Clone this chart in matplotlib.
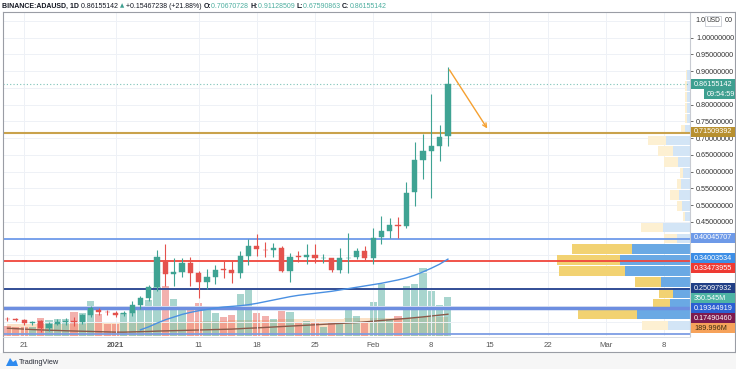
import matplotlib
matplotlib.use("Agg")
import matplotlib.pyplot as plt
import matplotlib.dates as mdates
import matplotlib.transforms as mtrans
from matplotlib.patches import Rectangle, Polygon
from matplotlib.lines import Line2D
import pandas as pd
import numpy as np

FONT = ['Liberation Sans', 'DejaVu Sans']
plt.rcParams['font.family'] = FONT

# ---------------- data ----------------
dates = pd.date_range("2020-12-19", "2021-02-10", freq="D")

opens = [0.160, 0.159, 0.157, 0.149, 0.153, 0.132, 0.146, 0.151, 0.153, 0.151, 0.171, 0.186, 0.182,
         0.179, 0.174, 0.178, 0.202, 0.222, 0.256, 0.331, 0.296, 0.301, 0.327,
         0.298, 0.271, 0.285, 0.309, 0.308, 0.298, 0.348, 0.378, 0.367, 0.365,
         0.373, 0.305, 0.347, 0.345, 0.351, 0.341, 0.341, 0.308, 0.341, 0.345, 0.362,
         0.343, 0.405, 0.423, 0.441, 0.438, 0.538, 0.635, 0.661, 0.677, 0.70670728]
highs = [0.165, 0.164, 0.161, 0.155, 0.158, 0.150, 0.160, 0.163, 0.165, 0.175, 0.200, 0.192, 0.186,
         0.184, 0.183, 0.215, 0.228, 0.262, 0.366, 0.385, 0.342, 0.343, 0.345,
         0.305, 0.310, 0.323, 0.333, 0.333, 0.363, 0.398, 0.413, 0.390, 0.386,
         0.378, 0.358, 0.363, 0.383, 0.385, 0.355, 0.343, 0.373, 0.418, 0.373, 0.378,
         0.433, 0.468, 0.463, 0.465, 0.568, 0.688, 0.713, 0.833, 0.738, 0.91128509]
lows = [0.154, 0.153, 0.142, 0.141, 0.121, 0.125, 0.143, 0.143, 0.138, 0.146, 0.166, 0.172, 0.172,
        0.166, 0.168, 0.170, 0.190, 0.215, 0.245, 0.258, 0.258, 0.285, 0.258,
        0.223, 0.250, 0.265, 0.283, 0.267, 0.283, 0.321, 0.348, 0.345, 0.345,
        0.300, 0.271, 0.330, 0.325, 0.328, 0.328, 0.300, 0.298, 0.298, 0.340, 0.335,
        0.325, 0.383, 0.403, 0.401, 0.431, 0.498, 0.578, 0.523, 0.633, 0.67590863]
closes = [0.159, 0.158, 0.149, 0.152, 0.132, 0.146, 0.152, 0.154, 0.151, 0.171, 0.192, 0.181, 0.180,
          0.173, 0.178, 0.202, 0.222, 0.256, 0.346, 0.296, 0.301, 0.327, 0.298,
          0.271, 0.285, 0.308, 0.307, 0.298, 0.348, 0.378, 0.370, 0.365, 0.373,
          0.305, 0.345, 0.345, 0.351, 0.341, 0.342, 0.308, 0.341, 0.343, 0.362, 0.343,
          0.403, 0.423, 0.440, 0.439, 0.535, 0.635, 0.662, 0.677, 0.705, 0.86155142]
volumes_m = [90, 84, 84, 84, 159, 144, 150, 150, 213, 204, 315, 195, 108,
             105, 204, 240, 255, 324, 438, 450, 333, 234, 234,
             294, 234, 204, 168, 189, 375, 414, 204, 180, 150,
             228, 219, 114, 138, 114, 84, 129, 114, 249, 180, 114,
             309, 465, 150, 180, 450, 468, 609, 405, 279, 350.545]
vol_band_m = [108, 108, 108, 108, 110, 110, 110, 112, 112, 112, 114, 114, 114,
              116, 116, 118, 120, 122, 124, 126, 128, 130, 130,
              132, 134, 136, 138, 140, 142, 144, 146, 146, 148,
              150, 150, 152, 152, 154, 154, 156, 156, 158, 158, 160,
              160, 162, 164, 164, 166, 166, 168, 168, 170, 171]
vol_ma_m = [70, 66, 62, 58, 55, 52, 50, 47, 45, 43, 41, 39, 37,
            35, 35, 37, 39, 41, 44, 46, 48, 50, 52,
            54, 56, 58, 60, 62, 66, 70, 73, 77, 81,
            85, 89, 93, 97, 101, 105, 109, 113, 117, 121, 127,
            133, 140, 146, 152, 158, 165, 172, 180, 188, 196]
price_ma = [np.nan] * 16 + [
    0.128, 0.137, 0.148, 0.158, 0.166, 0.174, 0.180,
    0.185, 0.189, 0.193, 0.196, 0.198, 0.200, 0.203, 0.207, 0.212, 0.217,
    0.222, 0.227, 0.231, 0.234, 0.237, 0.240, 0.243, 0.247, 0.251, 0.255, 0.259,
    0.263, 0.267, 0.272, 0.277, 0.283, 0.291, 0.301, 0.312, 0.324, 0.339]

# volume profile rows (price centre, yellow length, blue length, inside value area)
vp_price = [0.1409, 0.1734, 0.2059, 0.2384, 0.2709, 0.3034, 0.3359, 0.3684, 0.4009, 0.4334,
            0.4659, 0.4984, 0.5309, 0.5634, 0.5959, 0.6284, 0.6609, 0.6934, 0.7259, 0.7584,
            0.7909, 0.8234, 0.8559, 0.8884]
vp_yellow = [26, 59, 17, 14, 26, 66, 63, 60, 13, 22, 2, 5, 9, 4, 3, 14, 15, 18, 4, 2, 2, 2, 2, 1]
vp_blue = [22, 53, 20, 17, 29, 65, 70, 58, 13, 27, 5, 8, 11, 9, 7, 12, 17, 24, 5, 3, 3, 3, 3, 3]
vp_value_area = [False, True, True, True, True, True, True, True] + [False] * 16

level_prices = [0.71509392, 0.40045707, 0.33473955, 0.25097932, 0.19344919, 0.1150]
level_colors = ['#C9A24C', '#6F9BEA', '#F0453C', '#23408E', '#6D8EE0', '#7D9DE4']
level_widths = [1.5, 1.3, 1.3, 1.3, 2.5, 1.3]

last_price = 0.86155142
arrow_start = (pd.Timestamp("2021-02-10"), 0.911)
arrow_end = (pd.Timestamp("2021-02-14 22:00"), 0.722)

xtick_dates = ["2020-12-21", "2021-01-01", "2021-01-11", "2021-01-18", "2021-01-25", "2021-02-01",
               "2021-02-08", "2021-02-15", "2021-02-22", "2021-03-01", "2021-03-08"]
xtick_labels = ["21", "2021", "11", "18", "25", "Feb", "8", "15", "22", "Mar", "8"]
grid_values = [0.15, 0.20, 0.25, 0.30, 0.35, 0.40, 0.45, 0.50, 0.55, 0.60, 0.65, 0.70, 0.75, 0.80,
               0.85, 0.90, 0.95, 1.00, 1.05]
ytick_values = [0.45, 0.50, 0.55, 0.60, 0.65, 0.70, 0.75, 0.80, 0.90, 0.95, 1.00]

# ---------------- figure ----------------
W, H = 736, 369
fig = plt.figure(figsize=(W / 100, H / 100), dpi=100)
fig.patch.set_facecolor('white')


def fx(px):
    return px / W


def fy(py):
    return 1 - py / H


L, R, T, B = 3, 690, 12, 336
rect = [fx(L), fy(B), fx(R) - fx(L), (B - T) / H]
ax = fig.add_axes(rect)
axv = ax.twinx()
ax.set_zorder(axv.get_zorder() + 1)
ax.patch.set_visible(False)
axv.patch.set_facecolor('white')

d0 = mdates.date2num(pd.Timestamp("2021-01-01"))
ax.set_xlim(d0 - 13.54, d0 + 69.13)
ax.set_ylim(0.1096, 1.0767)
axv.set_ylim(0, 2916)

xd = mdates.date2num(dates)
up = np.array(closes) >= np.array(opens)
UP, DN = '#3FA393', '#E4524D'

# grid
for t in xtick_dates:
    ax.axvline(mdates.date2num(pd.Timestamp(t)), color='#EEF1F6', lw=0.7, zorder=0.2)
for v in grid_values:
    ax.axhline(v, color='#EEF1F6', lw=0.7, zorder=0.2)

# volume
axv.fill_between(xd, 0, vol_band_m, step='mid', color='#F7A95E', alpha=0.35, lw=0, zorder=1)
axv.bar(xd, volumes_m, width=0.86, color=[UP if u else DN for u in up], alpha=0.45, zorder=2)
axv.plot(xd, vol_ma_m, color='#8B5A4A', lw=1.0, zorder=3)
axv.set_yticks([])
axv.tick_params(right=False, labelright=False)
for s in axv.spines.values():
    s.set_visible(False)

# volume profile (x in axes fraction, y in price)
trans = mtrans.blended_transform_factory(ax.transAxes, ax.transData)
axw = R - L
for p, yl, bl, va in zip(vp_price, vp_yellow, vp_blue, vp_value_area):
    cy, cb = ('#F2D272', '#6AA9E4') if va else ('#FDF0D2', '#D3E5F6')
    ax.barh(p, bl / axw, left=1 - bl / axw, height=0.029, color=cb, transform=trans, zorder=1)
    ax.barh(p, yl / axw, left=1 - (bl + yl) / axw, height=0.029, color=cy, transform=trans, zorder=1)

# levels
for lp, lc, lw in zip(level_prices, level_colors, level_widths):
    ax.axhline(lp, color=lc, lw=lw, zorder=2)
ax.axhline(last_price, color='#7CC3B8', lw=0.8, ls=(0, (1, 2)), zorder=2)

# price MA
ax.plot(xd, price_ma, color='#4A90E2', lw=1.0, zorder=2.5)

# candles
cw = 0.62
for x, o, h, l, c, u in zip(xd, opens, highs, lows, closes, up):
    col = UP if u else DN
    ax.vlines(x, l, h, color=col, lw=0.8, zorder=3)
    lo, hi = min(o, c), max(o, c)
    hgt = max(hi - lo, 0.0012)
    ax.add_patch(Rectangle((x - cw / 2, lo), cw, hgt, facecolor=col, edgecolor=col, lw=0.3, zorder=4))

# arrow
ax.annotate('', xy=(mdates.date2num(arrow_end[0]), arrow_end[1]),
            xytext=(mdates.date2num(arrow_start[0]), arrow_start[1]),
            arrowprops=dict(arrowstyle='->', color='#F5A030', lw=1.0, mutation_scale=7), zorder=5)

# axes ticks
TICK_FS = 5.2
ax.set_xticks([mdates.date2num(pd.Timestamp(t)) for t in xtick_dates])
ax.set_xticklabels(xtick_labels)
ax.tick_params(axis='x', length=0, pad=4, labelsize=5.6, colors='#555555')
for lab in ax.get_xticklabels():
    if lab.get_text() == '2021':
        lab.set_fontweight('bold')
ax.yaxis.tick_right()
ax.set_yticks(ytick_values)
ax.set_yticklabels([f"{v:.8f}" for v in ytick_values])
ax.tick_params(axis='y', length=2.5, width=0.5, pad=1.8, labelsize=TICK_FS, colors='#333333')
for s in ['top', 'left', 'bottom']:
    ax.spines[s].set_visible(False)
ax.spines['right'].set_color('#C8CBD2')
ax.spines['right'].set_linewidth(0.8)

# partially hidden top tick label "1.0 USD 00"
fig.text(fx(695), fy(21), '1.0', fontsize=TICK_FS, va='center', ha='left', color='#333333')
fig.text(fx(733), fy(21), '00', fontsize=TICK_FS, va='center', ha='right', color='#333333')


# right-axis labels
def plabel(py, txt, bg, fg='white', x0=691, x1=735):
    fig.add_artist(Rectangle((fx(x0), fy(py + 5)), fx(x1) - fx(x0), 10 / H, transform=fig.transFigure,
                             facecolor=bg, edgecolor='none', zorder=5))
    fig.text(fx(x0 + 3), fy(py), txt, color=fg, fontsize=TICK_FS, va='center', ha='left', zorder=6)


plabel(84, '0.86155142', '#3E9F90')
plabel(94, '09:54:59', '#3E9F90', x0=704)
plabel(132, '0.71509392', '#B8902F')
plabel(238, '0.40045707', '#6E9AE8')
plabel(258, '0.34003534', '#3D8EE6')
plabel(268, '0.33473955', '#EE3A33')
plabel(288, '0.25097932', '#203F86')
plabel(298, '350.545M', '#4DB3A4')
plabel(308, '0.19344919', '#2C5FD2')
plabel(318, '0.17490460', '#7D1A4E')
plabel(328, '189.996M', '#F6A25A', fg='#3a2a10')

# USD box
fig.add_artist(Rectangle((fx(705), fy(26)), fx(16), 10 / H, transform=fig.transFigure,
                         facecolor='white', edgecolor='#C8CBD2', lw=0.6, zorder=5))
fig.text(fx(713), fy(21), 'USD', fontsize=4.8, ha='center', va='center', color='#333333', zorder=6)

# frame lines
fig.add_artist(Line2D([fx(3), fx(735)], [fy(12), fy(12)], color='#9A9DA5', lw=0.8))
fig.add_artist(Line2D([fx(3), fx(3)], [fy(12), fy(352)], color='#9A9DA5', lw=0.8))
fig.add_artist(Line2D([fx(735), fx(735)], [fy(12), fy(352)], color='#9A9DA5', lw=0.8))
fig.add_artist(Line2D([fx(3), fx(735)], [fy(352), fy(352)], color='#9A9DA5', lw=0.8))
fig.add_artist(Line2D([fx(3), fx(690)], [fy(336.5), fy(336.5)], color='#D5D8DE', lw=0.6))

# footer
fig.add_artist(Rectangle((0, 0), 1, fy(352.5), transform=fig.transFigure, facecolor='#F6F6F6',
                         edgecolor='none', zorder=0))
fig.add_artist(Polygon([[fx(6), fy(366)], [fx(10), fy(358)], [fx(13), fy(362)], [fx(16), fy(360)],
                        [fx(18), fy(366)]], closed=True, transform=fig.transFigure,
                       facecolor='#2E8BF0', edgecolor='none'))
fig.text(fx(19), fy(362.5), 'TradingView', fontsize=5.3, va='center', ha='left', color='#2A2E39')

# title, pieces placed one after the other
pieces = [("BINANCE:ADAUSD, 1D", '#131722', 'bold'), (" 0.86155142 ", '#131722', 'normal'),
          ("▲", '#3E9F90', 'normal'), (" +0.15467238 (+21.88%) ", '#131722', 'normal'),
          ("O:", '#131722', 'bold'), ("0.70670728 ", '#4DAE9F', 'normal'),
          ("H:", '#131722', 'bold'), ("0.91128509 ", '#4DAE9F', 'normal'),
          ("L:", '#131722', 'bold'), ("0.67590863 ", '#4DAE9F', 'normal'),
          ("C:", '#131722', 'bold'), ("0.86155142", '#4DAE9F', 'normal')]
renderer = fig.canvas.get_renderer()
xpos = fx(2)
for txt, col, wt in pieces:
    fam = ['DejaVu Sans'] if txt == "▲" else FONT
    t = fig.text(xpos, fy(6), txt, color=col, fontweight=wt, fontsize=5.0, va='center', ha='left',
                 family=fam, fontsize_=None) if False else \
        fig.text(xpos, fy(6), txt, color=col, fontweight=wt, fontsize=5.0 if txt != "▲" else 4.0,
                 va='center', ha='left', family=fam)
    bb = t.get_window_extent(renderer)
    xpos = bb.x1 / W

fig.savefig('out.png', dpi=100)
